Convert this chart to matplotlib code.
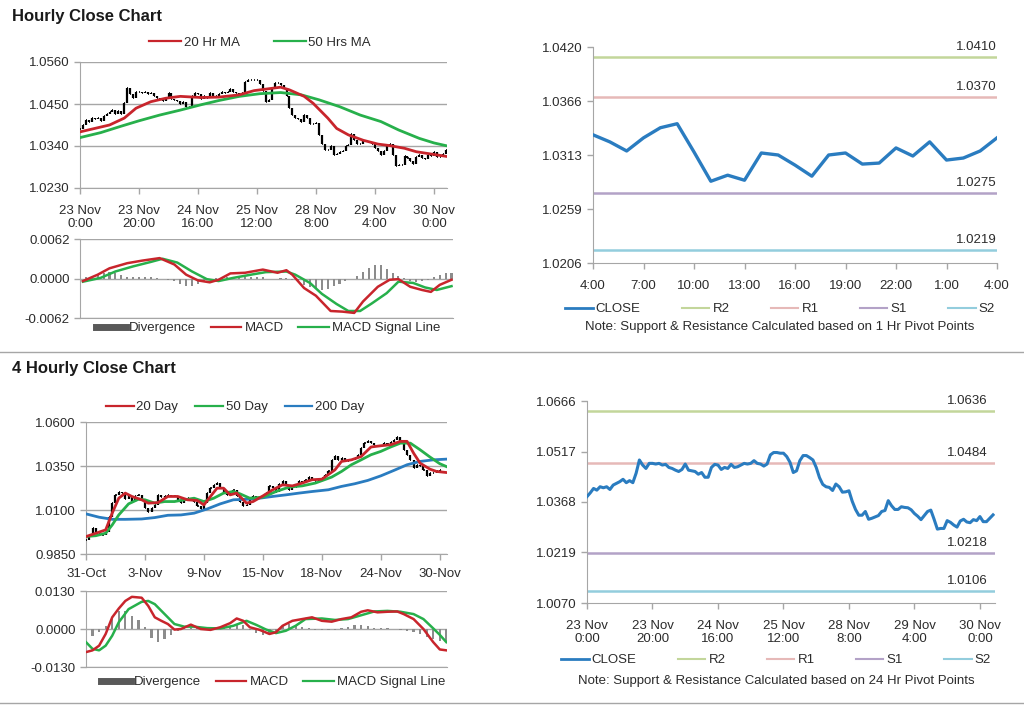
import numpy as np
import matplotlib
matplotlib.use("Agg")
import matplotlib.pyplot as plt
from matplotlib.lines import Line2D

plt.rcParams['font.family'] = ['Liberation Sans', 'DejaVu Sans']
plt.rcParams['font.size'] = 9

# ---------------- data ----------------
# hourly closes, 23 Nov 0:00 -> 30 Nov 4:00
hourly_close = [
    1.0384, 1.0395, 1.0408, 1.0403, 1.0413, 1.0410, 1.0413, 1.0405, 1.0418, 1.0423,
    1.0428, 1.0435, 1.0425, 1.0431, 1.0425, 1.0453, 1.0492, 1.0477, 1.0467, 1.0482,
    1.0482, 1.0480, 1.0482, 1.0477, 1.0479, 1.0470, 1.0467, 1.0462, 1.0458, 1.0464,
    1.0480, 1.0462, 1.0460, 1.0458, 1.0450, 1.0455, 1.0441, 1.0441, 1.0470, 1.0479,
    1.0477, 1.0464, 1.0470, 1.0467, 1.0479, 1.0470, 1.0472, 1.0477, 1.0482, 1.0480,
    1.0482, 1.0490, 1.0482, 1.0480, 1.0474, 1.0480, 1.0507, 1.0514, 1.0514, 1.0512,
    1.0512, 1.0502, 1.0485, 1.0455, 1.0460, 1.0490, 1.0505, 1.0505, 1.0499, 1.0492,
    1.0470, 1.0440, 1.0420, 1.0413, 1.0411, 1.0402, 1.0421, 1.0413, 1.0397, 1.0398,
    1.0401, 1.0370, 1.0346, 1.0329, 1.0329, 1.0340, 1.0317, 1.0320, 1.0324, 1.0328,
    1.0340, 1.0343, 1.0372, 1.0357, 1.0346, 1.0346, 1.0354, 1.0352, 1.0351, 1.0345,
    1.0334, 1.0326, 1.0316, 1.0328, 1.0340, 1.0344, 1.0317, 1.0288, 1.0290, 1.0290,
    1.0313, 1.0308, 1.0300, 1.0294, 1.0312, 1.0317, 1.0309, 1.0307, 1.0316, 1.0313,
    1.0325, 1.0310, 1.0310, 1.0320, 1.0330]
hourly_labels = ["23 Nov\n0:00", "23 Nov\n20:00", "24 Nov\n16:00", "25 Nov\n12:00",
                 "28 Nov\n8:00", "29 Nov\n4:00", "30 Nov\n0:00"]

ma20_hr_x = [0, 5, 10, 15, 19, 24, 29, 34, 41, 47, 54, 59, 63, 68, 71, 76, 79, 84, 87,
             91, 96, 101, 105, 110, 114, 119, 124]
ma20_hr = [1.0377, 1.0386, 1.0395, 1.0413, 1.0439, 1.0456, 1.0465, 1.0470, 1.0467,
           1.0468, 1.0474, 1.0485, 1.0489, 1.0494, 1.0487, 1.0470, 1.0452, 1.0413,
           1.0386, 1.0369, 1.0355, 1.0345, 1.0341, 1.0334, 1.0325, 1.0319, 1.0313]
ma50_hr_x = [0, 7, 14, 20, 27, 34, 41, 47, 54, 61, 68, 75, 81, 88, 95, 102, 108, 115, 120, 124]
ma50_hr = [1.0362, 1.0375, 1.0392, 1.0406, 1.0421, 1.0434, 1.0448, 1.0459, 1.0470, 1.0477,
           1.0480, 1.0474, 1.0461, 1.0443, 1.0421, 1.0404, 1.0382, 1.0360, 1.0348, 1.0341]

macd_hr_x = [1, 6, 10, 16, 21, 27, 32, 36, 40, 44, 47, 51, 56, 62, 67, 70, 72, 76, 80, 85,
             89, 93, 96, 101, 105, 108, 112, 116, 119, 122, 126]
macd_hr = [-0.0004, 0.0006, 0.0016, 0.0024, 0.0028, 0.0032, 0.0022, 0.0006, -0.0003, -0.0006,
           -0.0002, 0.0008, 0.0009, 0.0014, 0.0009, 0.0013, 0.0006, -0.0015, -0.0027, -0.0051,
           -0.0052, -0.0054, -0.0036, -0.0013, -0.0002, -0.0001, -0.0013, -0.0018, -0.0021,
           -0.0010, -0.0002]
signal_hr_x = [1, 7, 12, 18, 24, 28, 33, 38, 43, 47, 52, 58, 63, 70, 73, 78, 82, 87, 91, 95,
               99, 104, 108, 113, 117, 121, 126]
signal_hr = [-0.0005, 0.0001, 0.0011, 0.0019, 0.0026, 0.0031, 0.0025, 0.0011, -0.0001, -0.0004,
             0.0001, 0.0006, 0.0010, 0.0011, 0.0006, -0.0007, -0.0024, -0.0040, -0.0051, -0.0051,
             -0.0039, -0.0023, -0.0005, -0.0007, -0.0014, -0.0018, -0.0012]
div_hr_x = list(range(0, 127, 2))
div_hr = [0.0002, 0.0002, 0.0003, 0.0006, 0.0008, 0.0010, 0.0008, 0.0005, 0.0003, 0.0003,
          0.0002, 0.0002, 0.0002, 0.0001, 0.0000, -0.0002, -0.0004, -0.0008, -0.0012, -0.0012,
          -0.0008, -0.0004, -0.0002, 0.0001, 0.0002, 0.0003, 0.0003, 0.0002, 0.0002, 0.0002,
          0.0002, 0.0002, -0.0001, -0.0001, 0.0001, 0.0001, -0.0002, -0.0006, -0.0010, -0.0013,
          -0.0016, -0.0018, -0.0016, -0.0012, -0.0008, -0.0004, -0.0001, 0.0004, 0.0010, 0.0017,
          0.0021, 0.0021, 0.0015, 0.0008, 0.0004, 0.0001, -0.0004, -0.0005, -0.0004, -0.0002,
          0.0003, 0.0006, 0.0008, 0.0009]

# last 24 hours, 4:00 -> 4:00
last_day_close = [1.0333, 1.0326, 1.0317, 1.0330, 1.0340, 1.0344, 1.0316, 1.0287, 1.0293,
                  1.0288, 1.0315, 1.0313, 1.0303, 1.0292, 1.0313, 1.0315, 1.0304, 1.0305,
                  1.0320, 1.0312, 1.0326, 1.0308, 1.0310, 1.0317, 1.0330]
last_day_labels = ["4:00", "7:00", "10:00", "13:00", "16:00", "19:00", "22:00", "1:00", "4:00"]
pivots_1h = {"R2": 1.0410, "R1": 1.0370, "S1": 1.0275, "S2": 1.0219}
pivots_24h = {"R2": 1.0636, "R1": 1.0484, "S1": 1.0218, "S2": 1.0106}

# 4-hourly closes, 31 Oct -> 30 Nov
h4_close = [
    0.9930, 0.9958, 0.9996, 0.9977, 0.9968, 0.9958, 0.9977, 1.0063, 1.0139, 1.0186,
    1.0205, 1.0196, 1.0161, 1.0177, 1.0148, 1.0177, 1.0186, 1.0158, 1.0110, 1.0091,
    1.0110, 1.0129, 1.0186, 1.0173, 1.0180, 1.0186, 1.0177, 1.0177, 1.0158, 1.0139,
    1.0158, 1.0167, 1.0158, 1.0148, 1.0123, 1.0104, 1.0139, 1.0196, 1.0224, 1.0243,
    1.0253, 1.0224, 1.0205, 1.0186, 1.0205, 1.0215, 1.0177, 1.0148, 1.0120, 1.0129,
    1.0158, 1.0177, 1.0173, 1.0167, 1.0177, 1.0196, 1.0237, 1.0224, 1.0205, 1.0249,
    1.0262, 1.0243, 1.0215, 1.0234, 1.0230, 1.0262, 1.0253, 1.0272, 1.0287, 1.0275,
    1.0262, 1.0272, 1.0281, 1.0300, 1.0319, 1.0385, 1.0404, 1.0385, 1.0395, 1.0385,
    1.0376, 1.0385, 1.0395, 1.0414, 1.0452, 1.0480, 1.0490, 1.0480, 1.0471, 1.0461,
    1.0465, 1.0480, 1.0477, 1.0484, 1.0499, 1.0515, 1.0490, 1.0442, 1.0414, 1.0385,
    1.0338, 1.0357, 1.0351, 1.0328, 1.0291, 1.0310, 1.0313, 1.0319, 1.0328]
h4_labels = ["31-Oct", "3-Nov", "9-Nov", "15-Nov", "18-Nov", "24-Nov", "30-Nov"]

ma20_4h_x = [0, 3, 6, 8, 10, 12, 14, 17, 19, 22, 25, 28, 31, 34, 36, 38, 40, 42, 44, 46,
             49, 51, 54, 57, 60, 63, 66, 69, 72, 76, 78, 81, 84, 87, 90, 93, 96, 98, 100,
             102, 105, 107, 110]
ma20_4h = [0.9949, 0.9968, 0.9987, 1.0082, 1.0167, 1.0196, 1.0177, 1.0158, 1.0139, 1.0142,
           1.0177, 1.0177, 1.0158, 1.0154, 1.0129, 1.0177, 1.0224, 1.0224, 1.0186, 1.0196,
           1.0139, 1.0148, 1.0180, 1.0215, 1.0243, 1.0237, 1.0253, 1.0272, 1.0275, 1.0328,
           1.0376, 1.0385, 1.0404, 1.0458, 1.0465, 1.0471, 1.0490, 1.0490, 1.0423, 1.0366,
           1.0332, 1.0319, 1.0313]
ma50_4h_x = [0, 3, 6, 8, 10, 13, 16, 18, 21, 24, 27, 30, 33, 36, 39, 42, 45, 47, 50, 54,
             58, 62, 66, 70, 75, 78, 81, 84, 87, 90, 93, 96, 99, 102, 105, 108, 110]
ma50_4h = [0.9949, 0.9954, 0.9968, 1.0015, 1.0072, 1.0135, 1.0161, 1.0158, 1.0139, 1.0148,
           1.0148, 1.0158, 1.0167, 1.0148, 1.0167, 1.0196, 1.0205, 1.0192, 1.0167, 1.0173,
           1.0205, 1.0230, 1.0237, 1.0253, 1.0287, 1.0319, 1.0357, 1.0385, 1.0414, 1.0433,
           1.0458, 1.0480, 1.0480, 1.0442, 1.0401, 1.0363, 1.0347]
ma200_4h_x = [0, 4, 8, 12, 17, 21, 25, 29, 33, 37, 41, 45, 49, 53, 57, 61, 65, 69, 74, 78,
              82, 86, 90, 94, 98, 102, 106, 110]
ma200_4h = [1.0078, 1.0059, 1.0047, 1.0047, 1.0049, 1.0057, 1.0070, 1.0072, 1.0082, 1.0106,
            1.0135, 1.0158, 1.0161, 1.0167, 1.0177, 1.0186, 1.0196, 1.0205, 1.0215, 1.0234,
            1.0249, 1.0268, 1.0294, 1.0325, 1.0357, 1.0376, 1.0385, 1.0389]

macd_4h_x = [0, 2, 4, 6, 8, 10, 12, 14, 17, 19, 21, 23, 25, 27, 29, 32, 35, 38, 41, 44,
             46, 48, 50, 53, 56, 58, 60, 63, 66, 69, 72, 75, 78, 81, 84, 86, 89, 92, 95, 97,
             100, 103, 106, 108, 110]
macd_4h = [-0.0079, -0.0073, -0.0057, -0.0017, 0.0040, 0.0070, 0.0096, 0.0110, 0.0107, 0.0079,
           0.0040, 0.0028, 0.0017, -0.0002, 0.0000, 0.0015, 0.0000, -0.0003, 0.0006, 0.0020,
           0.0036, 0.0028, 0.0006, -0.0003, -0.0017, -0.0011, 0.0011, 0.0028, 0.0034, 0.0040,
           0.0028, 0.0025, 0.0034, 0.0040, 0.0059, 0.0064, 0.0057, 0.0059, 0.0060, 0.0051,
           0.0034, 0.0000, -0.0045, -0.0070, -0.0073]
signal_4h_x = [0, 2, 4, 6, 8, 10, 13, 17, 19, 21, 24, 27, 30, 33, 37, 41, 45, 49, 52, 55,
               58, 61, 64, 67, 72, 76, 80, 84, 88, 92, 96, 100, 103, 106, 108, 110]
signal_4h = [-0.0045, -0.0068, -0.0073, -0.0057, -0.0023, 0.0023, 0.0068, 0.0093, 0.0096, 0.0085,
             0.0051, 0.0017, 0.0008, 0.0008, 0.0003, 0.0002, 0.0011, 0.0028, 0.0014, -0.0002,
             -0.0014, -0.0006, 0.0011, 0.0034, 0.0036, 0.0031, 0.0034, 0.0047, 0.0060, 0.0062,
             0.0059, 0.0051, 0.0034, 0.0002, -0.0020, -0.0045]
div_4h_x = list(range(0, 111, 2))
div_4h = [-0.0034, -0.0025, -0.0010, 0.0011, 0.0034, 0.0060, 0.0062, 0.0045, 0.0030, 0.0008,
          -0.0030, -0.0045, -0.0035, -0.0020, -0.0008, 0.0003, 0.0004, 0.0002, -0.0002, -0.0003,
          0.0002, 0.0005, 0.0009, 0.0014, 0.0012, -0.0005, -0.0014, -0.0022, -0.0018, -0.0006,
          0.0010, 0.0016, 0.0015, 0.0006, 0.0002, -0.0002, -0.0003, -0.0004, -0.0002, 0.0003,
          0.0008, 0.0012, 0.0012, 0.0010, 0.0004, 0.0002, 0.0002, 0.0001, -0.0002, -0.0006,
          -0.0010, -0.0016, -0.0026, -0.0034, -0.0040, -0.0045]

# ---------------- style ----------------
GRID = '#a6a6a6'
TXT = '#2b2b2b'
RED = '#c8252c'
GREEN = '#27b04b'
BLUE = '#2a7cc0'
DIVC = '#8c8c8c'
LEVEL_COLORS = {"R2": '#c3d69b', "R1": '#e6b9b8', "S1": '#b3a2c7', "S2": '#93cddd'}

W, H = 1024, 706


def px_axes(fig, x0, y0, x1, y1):
    # place an axes from a pixel box (origin top-left)
    return fig.add_axes([x0 / W, 1 - y1 / H, (x1 - x0) / W, (y1 - y0) / H])


def style(ax, grid=True):
    for s in ['top', 'right']:
        ax.spines[s].set_visible(False)
    ax.spines['left'].set_color(GRID)
    ax.spines['bottom'].set_color(GRID)
    ax.tick_params(axis='both', colors=GRID, labelcolor=TXT, length=4, width=1,
                   labelsize=9.5)
    if grid:
        ax.grid(axis='y', color=GRID, lw=1)
        ax.set_axisbelow(True)


def draw_bars(ax, close):
    c = np.asarray(close)
    x = np.arange(len(c))
    o = np.r_[c[0], c[:-1]]
    ax.vlines(x, np.minimum(o, c), np.maximum(o, c), color='black', lw=1.6, zorder=3)
    ax.hlines(c, x, x + 0.35, color='black', lw=1.2, zorder=3)


def macd_panel(ax, dx, dv, mx, mv, sx, sv, lim, xmax):
    ax.bar(dx, dv, width=0.7, color=DIVC, zorder=2)
    ax.plot(mx, mv, color=RED, lw=1.8, zorder=4)
    ax.plot(sx, sv, color=GREEN, lw=1.8, zorder=3)
    ax.set_xlim(0, xmax)
    ax.set_ylim(-lim, lim)
    ax.set_yticks([-lim, 0, lim])
    ax.set_yticklabels([f'{-lim:.4f}', '0.0000', f'{lim:.4f}'])
    ax.set_xticks([])
    style(ax)


def macd_legend(fig, cx, cy):
    handles = [Line2D([], [], color='#595959', lw=5),
               Line2D([], [], color=RED, lw=1.6),
               Line2D([], [], color=GREEN, lw=1.6)]
    fig.legend(handles, ['Divergence', 'MACD', 'MACD Signal Line'], loc='center',
               bbox_to_anchor=(cx / W, 1 - cy / H), ncol=3, frameon=False,
               handlelength=2.3, handletextpad=0.25, columnspacing=1.1, fontsize=9.5,
               labelcolor=TXT)


def pivot_chart(ax, close, levels, lw_close=2.4, label_dx=0):
    x = np.arange(len(close))
    for name, val in levels.items():
        ax.axhline(val, color=LEVEL_COLORS[name], lw=1.8, zorder=2)
        ax.annotate(f'{val:.4f}', xy=(1, val), xycoords=('axes fraction', 'data'),
                    xytext=(label_dx, 3), textcoords='offset points', ha='right',
                    va='bottom', fontsize=9.5, color=TXT)
    ax.plot(x, close, color=BLUE, lw=lw_close, zorder=3)
    style(ax, grid=False)


def pivot_legend(fig, cx, cy, note_y, note):
    handles = [Line2D([], [], color=BLUE, lw=2)] + \
              [Line2D([], [], color=LEVEL_COLORS[k], lw=1.5) for k in ["R2", "R1", "S1", "S2"]]
    fig.legend(handles, ['CLOSE', 'R2', 'R1', 'S1', 'S2'], loc='center',
               bbox_to_anchor=(cx / W, 1 - cy / H), ncol=5, frameon=False,
               handlelength=2.1, handletextpad=0.25, columnspacing=3.1, fontsize=9.5,
               labelcolor=TXT)
    fig.text(cx / W, 1 - note_y / H, note, ha='center', va='center', fontsize=9.5, color=TXT)


fig = plt.figure(figsize=(W / 100, H / 100), dpi=100)

fig.text(12 / W, 1 - 16 / H, 'Hourly Close Chart', fontsize=12, fontweight='bold',
         va='center', color='#1a1a1a')
fig.text(12 / W, 1 - 369 / H, '4 Hourly Close Chart', fontsize=12, fontweight='bold',
         va='center', color='#1a1a1a')
for yy in [352, 703]:
    fig.add_artist(Line2D([0, 1], [1 - yy / H] * 2, color=GRID, lw=1))

# ---- hourly price with MAs ----
ax = px_axes(fig, 80, 62, 447, 188)
draw_bars(ax, hourly_close)
ax.plot(ma50_hr_x, ma50_hr, color=GREEN, lw=2, zorder=4)
ax.plot(ma20_hr_x, ma20_hr, color=RED, lw=2, zorder=5)
ax.set_xlim(0, 124.4)
ax.set_ylim(1.0230, 1.0560)
ax.set_yticks([1.0230, 1.0340, 1.0450, 1.0560])
ax.set_yticklabels(['1.0230', '1.0340', '1.0450', '1.0560'])
ax.set_xticks(range(0, 121, 20))
ax.set_xticklabels(hourly_labels)
style(ax)
ax.tick_params(axis='x', pad=8)
fig.legend([Line2D([], [], color=RED, lw=1.6), Line2D([], [], color=GREEN, lw=1.6)],
           ['20 Hr MA', '50 Hrs MA'], loc='center', bbox_to_anchor=(260 / W, 1 - 43 / H),
           ncol=2, frameon=False, handlelength=2.4, handletextpad=0.2, columnspacing=2.6,
           fontsize=9.5, labelcolor=TXT)

ax = px_axes(fig, 80, 239, 453, 318)
macd_panel(ax, div_hr_x, div_hr, macd_hr_x, macd_hr, signal_hr_x, signal_hr, 0.0062, 126.5)
macd_legend(fig, 268, 328)

# ---- last 24 hours with 1 Hr pivots ----
ax = px_axes(fig, 593, 47, 997, 263)
pivot_chart(ax, last_day_close, pivots_1h)
ax.set_xlim(0, 24)
ax.set_ylim(1.0206, 1.0420)
ax.set_yticks(np.linspace(1.0206, 1.0420, 5))
ax.set_yticklabels(['1.0206', '1.0259', '1.0313', '1.0366', '1.0420'])
ax.set_xticks(range(0, 25, 3))
ax.set_xticklabels(last_day_labels)
ax.tick_params(axis='x', pad=8)
pivot_legend(fig, 780, 309, 327, 'Note: Support & Resistance Calculated based on 1 Hr Pivot Points')

# ---- 4 hourly price with MAs ----
ax = px_axes(fig, 86, 422, 447, 554)
draw_bars(ax, h4_close)
ax.plot(ma200_4h_x, ma200_4h, color=BLUE, lw=2, zorder=4)
ax.plot(ma50_4h_x, ma50_4h, color=GREEN, lw=2, zorder=5)
ax.plot(ma20_4h_x, ma20_4h, color=RED, lw=2, zorder=6)
ax.set_xlim(0, 110.2)
ax.set_ylim(0.9850, 1.0600)
ax.set_yticks([0.9850, 1.0100, 1.0350, 1.0600])
ax.set_yticklabels(['0.9850', '1.0100', '1.0350', '1.0600'])
ax.set_xticks(range(0, 109, 18))
ax.set_xticklabels(h4_labels)
style(ax)
ax.tick_params(axis='x', pad=6)
fig.legend([Line2D([], [], color=c, lw=1.6) for c in [RED, GREEN, BLUE]],
           ['20 Day', '50 Day', '200 Day'], loc='center', bbox_to_anchor=(235 / W, 1 - 407 / H),
           ncol=3, frameon=False, handlelength=2.1, handletextpad=0.2, columnspacing=1.3,
           fontsize=9.5, labelcolor=TXT)

ax = px_axes(fig, 86, 591, 447, 667)
macd_panel(ax, div_4h_x, div_4h, macd_4h_x, macd_4h, signal_4h_x, signal_4h, 0.0130, 110.2)
macd_legend(fig, 273, 682)

# ---- hourly close with 24 Hr pivots ----
ax = px_axes(fig, 587, 401, 995, 603)
pivot_chart(ax, hourly_close, pivots_24h, lw_close=2.2, label_dx=-5)
ax.set_xlim(0, 124.6)
ax.set_ylim(1.0070, 1.0666)
ax.set_yticks(np.linspace(1.0070, 1.0666, 5))
ax.set_yticklabels(['1.0070', '1.0219', '1.0368', '1.0517', '1.0666'])
ax.set_xticks(range(0, 121, 20))
ax.set_xticklabels(hourly_labels)
ax.tick_params(axis='x', pad=8)
pivot_legend(fig, 776, 660, 681, 'Note: Support & Resistance Calculated based on 24 Hr Pivot Points')

fig.savefig('out.png', dpi=100)
